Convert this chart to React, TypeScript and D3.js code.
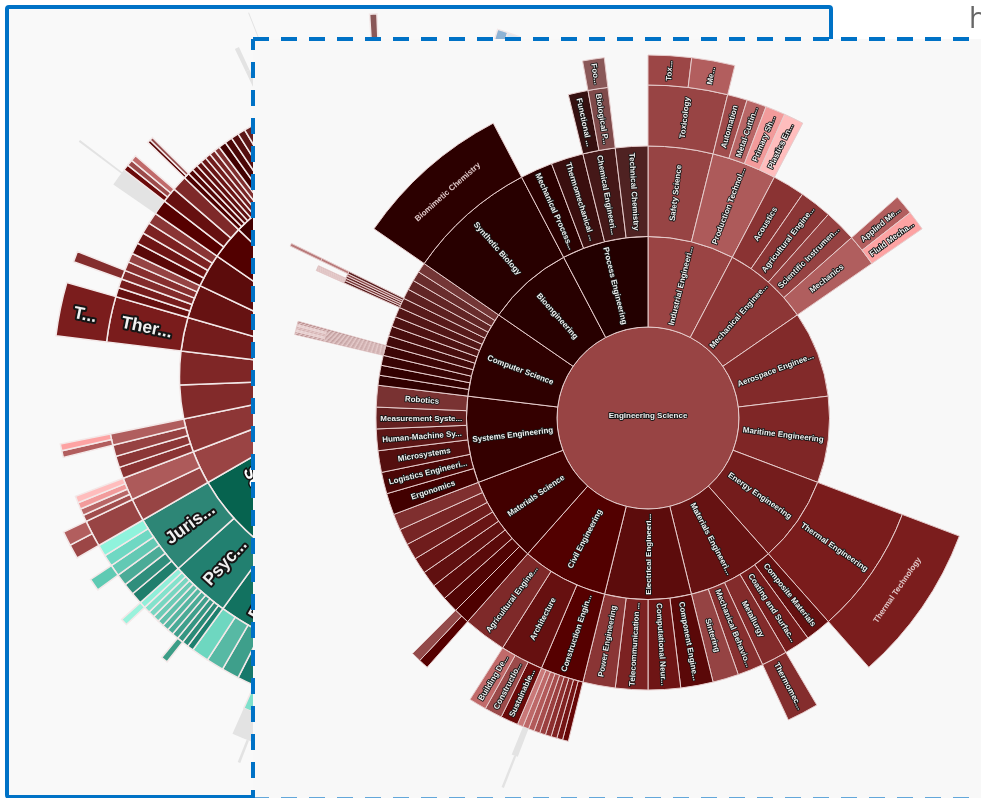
import React from "react";
import * as d3 from "d3";

type N = { name: string; color: string | null; children?: N[]; weight?: number };
const n = (name: string, color: string | null, children?: N[], weight?: number): N => ({ name, color, children, weight });

const GHOST = "#e3e3e3";
const gap = (weight: number): N => n("", null, undefined, weight);

// ---------- Engineering branch: depth 3+ ----------
const safetyKids = [n("Toxicology", "#984444", [n("Tox...", "#9c4646"), n("Me...", "#b25e5e")])];
const productionKids = [n("Automation", "#a04c4c"), n("Metal-Cuttin...", "#b86666"), n("Primary Sh...", "#f29b9b"), n("Plastics En...", "#ffbdbd")];
const mechanicsKids = [n("Applied Me...", "#b25e5e"), n("Fluid Mecha...", "#fda3a3")];
const architectureKids = [n("Sustainable...", "#6a0a0a"), n("Constructio...", "#9b4a4a"), n("Building De...", "#c06a6a")];
const chemicalKids = [n("Functional ...", "#351010"), n("Biological P...", "#7f4a4a", [n("Foo...", "#8a5858")])];

const mainGhost = n("", GHOST, [gap(0.25), n("", GHOST, undefined, 0.35), gap(0.4)]);
const constructionColors = ["#660606", "#741414", "#802222", "#8c2f2f", "#9a3f3f", "#a64c4c", "#b25a5a", "#bd6868", "#c97878"];
const constructionKids = constructionColors.map((c, i) => n("", c, i === 7 ? [mainGhost] : undefined));

const materialsColors = ["#4d0000", "#500404", "#5a0a0a", "#601010", "#681414", "#6f1c1c", "#772525", "#7f2f2f"];
const materialsKids = materialsColors.map((c, i) => n("", c, i === 0 ? [n("", "#550000"), n("", "#934a4a")] : undefined));

const lowerSpikeColors = ["#6a3030", "#7a4444", "#6a3030", "#7a4444", "#6a3030", "#7a4444", "#6a3030", "#7a4444", "#6a3030", "#7a4444"];
const lowerSpikeTips = ["#7a3a3a", "#7a3a3a", "#f8f0f0", "#f8f0f0", "#b88a8a", "#b88a8a", "#f8f0f0", "#f8f0f0", "#8a4a4a", "#8a4a4a"];
const lowerSpike = lowerSpikeColors.map((c, i) => n("", c, [n("", lowerSpikeTips[i])]));

const upperSpike = [
  n("", "#5a2020", [n("", "#b08888"), n("", "#c8a8a8"), n("", "#b08888")]),
  n("", "#7a3c3c", [n("", "#b08888"), n("", "#c8a8a8"), n("", "#b08888")]),
  n("", "#642828"),
  n("", "#8a4a4a"),
  n("", "#5a2020", [n("", "#b87a7a", [n("", "#b87a7a")])]),
];

const csColors = ["#300000", "#320000", "#380404", "#3c0606", "#410a0a", "#470d0d", "#4d1212", "#521616", "#571a1a", "#5c2020", "#612525", "#682c2c", "#733636"];
const csKids = csColors.map((c, i) => n("", c, i === 3 ? lowerSpike : i === 8 ? upperSpike : undefined));

// ---------- Engineering branch: depth 2 ----------
const industrialKids = [n("Safety Science", "#974444", safetyKids), n("Production Technol...", "#ad5a5a", productionKids)];
const mechanicalKids = [n("Acoustics", "#8a3333"), n("Agricultural Engine...", "#8b3636"), n("Scientific Instrumen...", "#964242"), n("Mechanics", "#b05e5e", mechanicsKids)];
const energyKids = [n("Thermal Engineering", "#7a1c1c", [n("Thermal Technology", "#7b1d1d")])];
const materialsEngKids = [
  n("Composite Materials", "#651010"),
  n("Coating and Surfac...", "#761c1c"),
  n("Metallurgy", "#832b2b", [n("Thermomec...", "#842d2d")]),
  n("Mechanical Behavio...", "#872f2f"),
  n("Sintering", "#954343"),
];
const electricalKids = [n("Component Engine...", "#5a0808"), n("Computational Neur...", "#6e1515"), n("Telecommunication ...", "#7c2222"), n("Power Engineering", "#8a3535")];
const civilKids = [n("Construction Engin...", "#560000", constructionKids), n("Architecture", "#661010", architectureKids), n("Agricultural Engine...", "#7e2929")];
const systemsKids = [n("Ergonomics", "#420000"), n("Logistics Engineeri...", "#4a0606"), n("Microsystems", "#540e0e"), n("Human-Machine Sy...", "#5c1616"), n("Measurement Syste...", "#652020"), n("Robotics", "#793232")];
const bioKids = [n("Synthetic Biology", "#280000", [n("Biomimetic Chemistry", "#2c0000")])];
const processKids = [n("Mechanical Process...", "#2a0000"), n("Thermomechanical ...", "#3a0e0e"), n("Chemical Engineeri...", "#451818", chemicalKids), n("Technical Chemistry", "#4f2222")];

const engineeringKids = [
  n("Industrial Engineeri...", "#9a4444", industrialKids),
  n("Mechanical Enginee...", "#8d3636", mechanicalKids),
  n("Aerospace Enginee...", "#822a2a"),
  n("Maritime Engineering", "#7f2626"),
  n("Energy Engineering", "#741c1c", energyKids),
  n("Materials Engineeri...", "#661212", materialsEngKids),
  n("Electrical Engineeri...", "#5c0c0c", electricalKids),
  n("Civil Engineering", "#520000", civilKids),
  n("Materials Science", "#420000", materialsKids),
  n("Systems Engineering", "#340000", systemsKids),
  n("Computer Science", "#2e0000", csKids),
  n("Bioengineering", "#280000", bioKids),
  n("Process Engineering", "#230000", processKids),
];
const engineering = n("Engineering Science", "#984444", engineeringKids);

// ---------- Back chart: the same branch, with a few grey replacements ----------
const backReplacements = new Map<N, N[]>([
  [civilKids[0], [n("", GHOST, [gap(0.74), n("", GHOST, [n("", GHOST)], 0.1), gap(0.16)])]],
  [csKids[3], [n("", GHOST, [n("", GHOST)])]],
  [csKids[8], [n("", null, [n("", null, [gap(0.7), n("", GHOST, undefined, 0.2), gap(0.1)])])]],
]);
const toBack = (d: N): N => {
  const kids = backReplacements.get(d) ?? d.children;
  return { ...d, children: kids?.map(toBack) };
};

const jurisColors = ["#207e6c", "#2f8e7c", "#4bab97", "#63c9b4", "#6fd8c3", "#8ff3dc"];
const jurisKids = jurisColors.map((c, i) => n("", c, i === 3 ? [n("", "#5ecab3")] : undefined));
const psycColors = ["#1d7f6e", "#2a8a77", "#359582", "#3f9f8c", "#4aaa96", "#55b5a1", "#60c0ab", "#6ccbb6", "#77d6c1", "#83e2cc", "#90efd9"];
const psycKids = psycColors.map((c, i) => n("", c, i === 2 ? [n("", "#3d9d87")] : i === 10 ? [n("", "#9af2dc")] : undefined));
const educColors = ["#16786a", "#3e9f8b", "#57b9a4", "#6ed7c0"];
const educKids = educColors.map((c) => n("", c));
const socialKids = [n("Educ...", "#127260", educKids), n("Psyc...", "#228070", psycKids), n("Juris...", "#2d8676", jurisKids)];

const tealTip = n("", "#7ee0cb", [n("", GHOST, [gap(0.125), n("", GHOST, undefined, 0.125), gap(0.75)])]);
const nextKids = [
  n("", null),
  n("", null),
  n("", null, [n("", null), n("", null, [n("", null), tealTip])]),
];
const greenKids = [n("", null, undefined, 48), n("", null, nextKids, 36), n("So...", "#06634f", socialKids, 36)];

const hiddenChain = (tip: N, weight: number): N => n("", null, [n("", null, [n("", null, [tip])])], weight);
const blueKids = [
  gap(17),
  hiddenChain(n("", "#8fb3d4"), 1.7),
  hiddenChain(n("", "#dde8f0"), 2),
  gap(99.3),
];
const backData = n("", null, [n("", null, blueKids), n("", null, greenKids), { ...toBack(engineering), color: null }]);

// ---------- Layout helpers ----------
const MAIN_RADII = [0, 91, 181.5, 272, 333, 363, 397];
const BACK_RADII = [0, 60, 100, 212, 287, 338, 363, 391, 415];
const BACK_LABELS = new Map<string, string>([
  ["Thermal Engineering", "Ther..."],
  ["Thermal Technology", "T..."],
  ["Juris...", "Juris..."],
  ["Psyc...", "Psyc..."],
  ["Educ...", "Educ..."],
]);
const TANGENTIAL_LABELS = new Set(["Thermal Technology", "Biomimetic Chemistry"]);

function layout(data: N) {
  const root: any = d3.hierarchy<N>(data, (d) => d.children);
  root.value = 1;
  root.eachBefore((p: any) => {
    if (!p.children) return;
    const total = d3.sum(p.children, (k: any) => k.data.weight ?? 1);
    p.children.forEach((k: any) => (k.value = (p.value * (k.data.weight ?? 1)) / total));
  });
  return d3.partition<N>().size([2 * Math.PI, root.height + 1])(root).descendants();
}

const deg = d3.scaleLinear().domain([0, 2 * Math.PI]).range([0, 360]);

function Sunburst({ data, cx, cy, radii, stroke, strokeWidth, labelOf, fontSize, halo, tangential }: any) {
  const nodes = layout(data);
  const arc = d3.arc<any>()
    .startAngle((d) => d.x0)
    .endAngle((d) => d.x1)
    .innerRadius((d) => radii[d.depth])
    .outerRadius((d) => radii[d.depth + 1]);
  return (
    <g transform={`translate(${cx},${cy})`}>
      {nodes.filter((d: any) => d.data.color).map((d: any, i: number) => (
        <path key={i} d={arc(d) as string} fill={d.data.color}
          stroke={d.data.color === GHOST ? "none" : stroke} strokeWidth={strokeWidth} />
      ))}
      {nodes.map((d: any, i: number) => {
        const label = labelOf(d.data);
        if (!label) return null;
        const a = deg((d.x0 + d.x1) / 2);
        const r = (radii[d.depth] + radii[d.depth + 1]) / 2;
        const turn = tangential && TANGENTIAL_LABELS.has(d.data.name);
        const spin = turn ? (a < 180 ? -90 : 90) : a < 179.999 ? 0 : 180;
        const t = d.depth === 0 ? "translate(0,-3)" : `rotate(${a - 90}) translate(${r},0) rotate(${spin})`;
        return (
          <text key={i} transform={t} textAnchor="middle" dy="0.35em"
            fontFamily="'Liberation Sans', Arial, sans-serif" fontWeight="bold" fontSize={fontSize}
            fill={turn ? "#e0c8c8" : "#f0f0f0"} stroke={turn ? "none" : "#151515"} strokeWidth={halo}
            strokeLinejoin="round" style={{ paintOrder: "stroke" }}>
            {label}
          </text>
        );
      })}
    </g>
  );
}

const BLUE = "#0072c6";

export default function App() {
  return (
    <svg width={981} height={798} viewBox="0 0 981 798"
      style={{ position: "absolute", left: 0, top: 0, display: "block", filter: "blur(0.45px)" }}>
      <rect x={0} y={0} width={981} height={798} fill="#ffffff" />
      <rect x={7} y={7} width={824} height={790} fill="#f9f9f9" />
      <Sunburst data={backData} cx={391.5} cy={376.5} radii={BACK_RADII} stroke="#f3e8e8" strokeWidth={1.5}
        labelOf={(d: N) => BACK_LABELS.get(d.name)} fontSize={17.5} halo={4} tangential={false} />
      <text transform="translate(243,470) rotate(65)" fontFamily="'Liberation Sans', Arial, sans-serif"
        fontWeight="bold" fontSize={17.5} fill="#fff" stroke="#111" strokeWidth={3} style={{ paintOrder: "stroke" }}>So</text>
      <rect x={7} y={7} width={824} height={790} fill="none" stroke={BLUE} strokeWidth={4} rx={2} />
      <rect x={253} y={39} width={728} height={759} fill="#f8f8f8" />
      <path d="M253,39H981" stroke={BLUE} strokeWidth={4} strokeDasharray="16 12" fill="none" />
      <path d="M253,39V798" stroke={BLUE} strokeWidth={4} strokeDasharray="16 12" strokeDashoffset={5} fill="none" />
      <path d="M253,798.5H981" stroke={BLUE} strokeWidth={3} strokeDasharray="16 12" fill="none" opacity={0.6} />
      <Sunburst data={engineering} cx={648} cy={418} radii={MAIN_RADII} stroke="#e6cccc" strokeWidth={1}
        labelOf={(d: N) => d.name} fontSize={8} halo={1.8} tangential={true} />
      <text x={969} y={28} fontFamily="'Open Sans', sans-serif" fontSize={29} fill="#666">h</text>
    </svg>
  );
}
